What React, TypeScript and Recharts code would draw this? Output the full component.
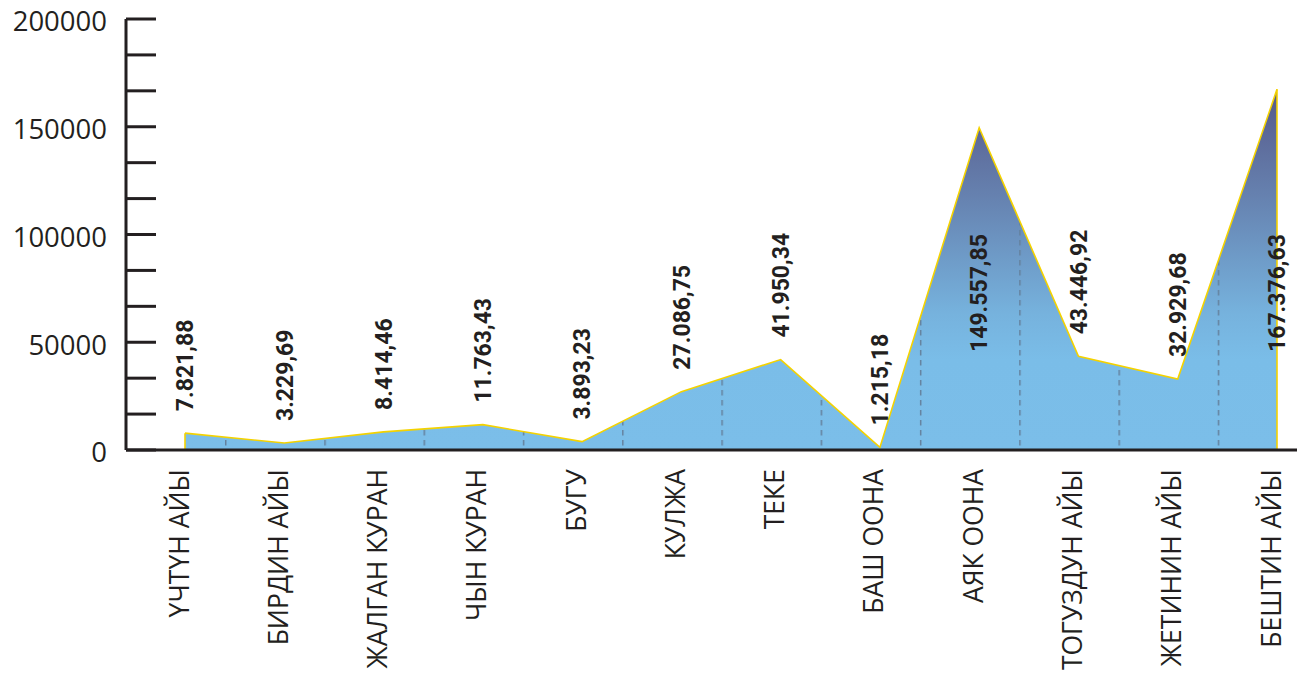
import React from 'react';
import { AreaChart, Area, XAxis, YAxis, ReferenceLine } from 'recharts';

const months = [
  'ҮЧТҮН АЙЫ',
  'БИРДИН АЙЫ',
  'ЖАЛГАН КУРАН',
  'ЧЫН КУРАН',
  'БУГУ',
  'КУЛЖА',
  'ТЕКЕ',
  'БАШ ООНА',
  'АЯК ООНА',
  'ТОГУЗДУН АЙЫ',
  'ЖЕТИНИН АЙЫ',
  'БЕШТИН АЙЫ',
];

const amounts = [
  7821.88, 3229.69, 8414.46, 11763.43, 3893.23, 27086.75, 41950.34, 1215.18, 149557.85, 43446.92,
  32929.68, 167376.63,
];

const yTicks = [
  0, 16666.67, 33333.33, 50000, 66666.67, 83333.33, 100000, 116666.67, 133333.33, 150000,
  166666.67, 183333.33, 200000,
];

const data = months.map((month, i) => ({ month, amount: amounts[i] }));

const W = 1310;
const H = 679;
const xAxisHeight = 229;
const margin = { top: 19, right: 13, bottom: 0, left: 0 };
const yAxisWidth = 126;
const padLeft = 59;
const padRight = 20;
const step = (W - margin.right - yAxisWidth - padLeft - padRight) / (months.length - 1);
const ink = '#231f20';
const yellow = '#f4d200';

// 7821.88 -> "7.821,88"
function fmt(v: number) {
  const [int, dec] = v.toFixed(2).split('.');
  return int.replace(/\B(?=(\d{3})+(?!\d))/g, '.') + ',' + dec;
}

const YTick = (props: any) => {
  const { x, y, payload } = props;
  const v = Math.round(payload.value);
  const axisX = yAxisWidth;
  return (
    <g>
      <line x1={axisX} x2={axisX + 30} y1={y} y2={y} stroke={ink} strokeWidth={3} />
      {v % 50000 === 0 && (
        <text
          x={x}
          y={y + 5}
          textAnchor="end"
          dominantBaseline="middle"
          fontFamily="'Open Sans', sans-serif"
          fontSize={27.5}
          fill={ink}
        >
          {v}
        </text>
      )}
    </g>
  );
};

const XTick = (props: any) => {
  const { x, payload } = props;
  const tx = x - 6;
  const ty = 469;
  return (
    <text
      x={tx}
      y={ty}
      dy="0.36em"
      transform={`rotate(-90, ${tx}, ${ty})`}
      textAnchor="end"
      fontFamily="'Open Sans', sans-serif"
      fontSize={26.5}
      fill={ink}
    >
      {payload.value}
    </text>
  );
};

const ValueLabel = (props: any) => {
  const { x, y, value } = props;
  const ty = value > 100000 ? 352 : y - 22;
  return (
    <text
      x={x}
      y={ty}
      dy="0.36em"
      transform={`rotate(-90, ${x}, ${ty})`}
      textAnchor="start"
      fontFamily="Roboto, sans-serif"
      fontWeight={700}
      fontSize={23}
      fill={ink}
    >
      {fmt(value)}
    </text>
  );
};

export default function App() {
  const first = months[0];
  const last = months[months.length - 1];
  return (
    <div style={{ position: 'absolute', left: 0, top: 0, width: W, height: H, background: '#fff' }}>
      <AreaChart width={W} height={H} data={data} margin={margin}>
        <defs>
          <linearGradient id="areaFill" x1="0" y1="0" x2="0" y2="1">
            <stop offset="0%" stopColor="#565889" />
            <stop offset="30%" stopColor="#6682b0" />
            <stop offset="62%" stopColor="#76b2dd" />
            <stop offset="75%" stopColor="#7abde8" />
            <stop offset="100%" stopColor="#7bbee9" />
          </linearGradient>
          <pattern
            id="dashes"
            patternUnits="userSpaceOnUse"
            x={yAxisWidth + padLeft + 40}
            y={0}
            width={step}
            height={10}
          >
            <line x1={0.75} x2={0.75} y1={0} y2={5.5} stroke="#64819d" strokeWidth={1.5} />
          </pattern>
        </defs>
        <XAxis
          dataKey="month"
          interval={0}
          padding={{ left: padLeft, right: padRight }}
          axisLine={{ stroke: ink, strokeWidth: 3 }}
          tickLine={false}
          tick={<XTick />}
          height={xAxisHeight}
        />
        <YAxis
          width={yAxisWidth}
          domain={[0, 200000]}
          ticks={yTicks}
          interval={0}
          tickSize={0}
          tickMargin={19}
          axisLine={{ stroke: ink, strokeWidth: 3 }}
          tickLine={false}
          tick={<YTick />}
        />
        <Area
          type="linear"
          dataKey="amount"
          stroke="none"
          fill="url(#areaFill)"
          fillOpacity={1}
          isAnimationActive={false}
          dot={false}
          activeDot={false}
        />
        <Area
          type="linear"
          dataKey="amount"
          stroke={yellow}
          strokeWidth={1.6}
          fill="url(#dashes)"
          fillOpacity={1}
          isAnimationActive={false}
          dot={false}
          activeDot={false}
          label={<ValueLabel />}
        />
        <ReferenceLine
          segment={[
            { x: first, y: 0 },
            { x: first, y: amounts[0] },
          ]}
          stroke={yellow}
          strokeWidth={1.6}
        />
        <ReferenceLine
          segment={[
            { x: last, y: 0 },
            { x: last, y: amounts[amounts.length - 1] },
          ]}
          stroke={yellow}
          strokeWidth={1.6}
        />
      </AreaChart>
    </div>
  );
}
